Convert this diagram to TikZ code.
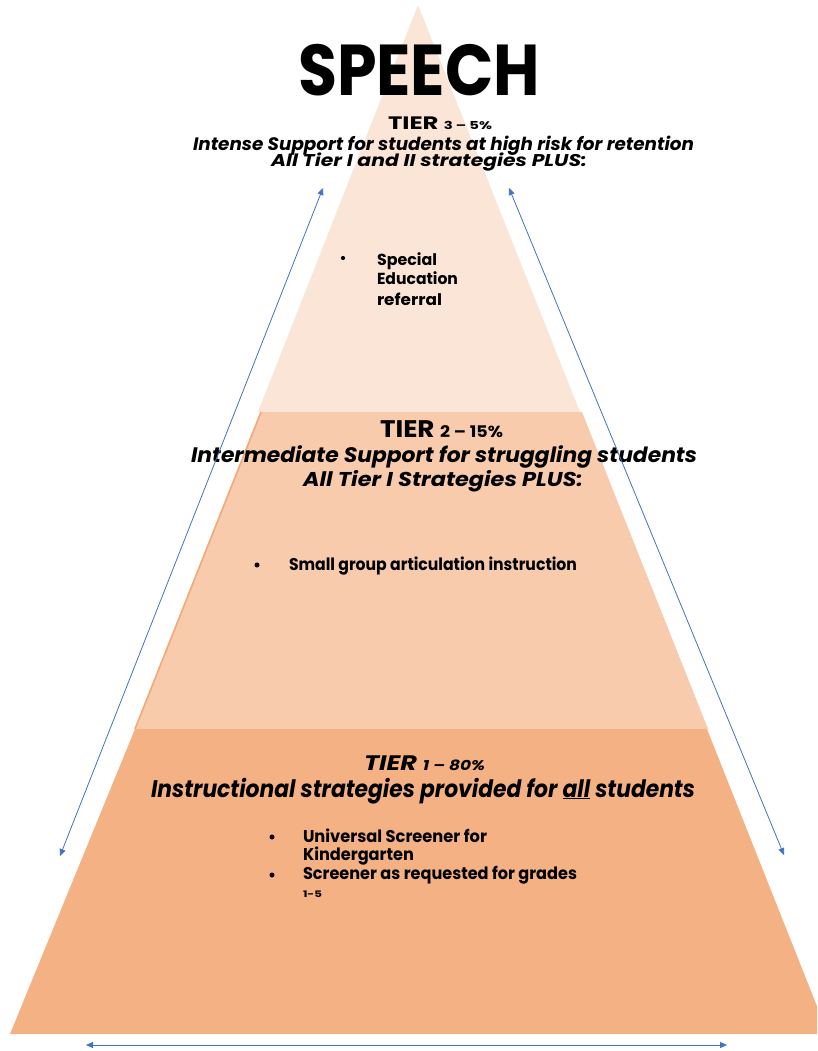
\documentclass[tikz,border=0pt]{standalone}
\usepackage{fontspec}
\usepackage{graphicx}
\setmainfont{Poppins}
\usetikzlibrary{arrows.meta}

\definecolor{tierthree}{HTML}{FBE5D6}
\definecolor{tiertwo}{HTML}{F8CBAD}
\definecolor{tierone}{HTML}{F4B183}
\definecolor{tieredge}{HTML}{F2A878}
\definecolor{arrowblue}{HTML}{4472C4}

% scale a line of text to a given width, keeping its height
\newcommand\fitline[2]{\resizebox{#1}{\height}{#2}}
\newcommand\fsz[1]{\fontsize{#1}{#1}\selectfont}

\tikzset{
  txt/.style={inner sep=0pt, outer sep=0pt, anchor=base west},
  dot/.style={circle, fill=black, inner sep=0pt, minimum size=4.2pt},
  span/.style={draw=arrowblue, line width=0.8pt,
    {Triangle[length=7pt,width=6pt]}-{Triangle[length=7pt,width=6pt]}},
}

\begin{document}
\begin{tikzpicture}[x=1pt,y=-1pt]
\clip (0,0) rectangle (817,1051);
\fill[white] (0,0) rectangle (817,1051);

% pyramid tiers
\fill[tierthree] (418,5) -- (258,412) -- (580,412) -- cycle;
\fill[tiertwo] (261,412) -- (582,412) -- (708,729) -- (135,729) -- cycle;
\draw[tieredge, line width=1.6pt] (261,412) -- (135,729);
\fill[tierone] (135,729) -- (707,729) -- (828,1034) -- (10,1034) -- cycle;

% title
\node[txt] (title) at (298,96) {\fitline{242pt}{\fsz{72}\bfseries SPEECH}};

% tier 3
\node[txt] (t3head) at (388,130) {\fitline{104pt}{\fsz{18}\bfseries TIER {\fsz{11}3 – 5\%}}};
\node[txt] (t3line1) at (193,151) {\fitline{501pt}{\fsz{18}\bfseries\itshape Intense Support for students at high risk for retention}};
\node[txt] (t3line2) at (271,167) {\fitline{316pt}{\fsz{17}\bfseries\itshape All Tier I and II strategies PLUS:}};
\node[dot] (t3dot) at (343,258) {};
\node[txt] (t3a) at (377,265) {\fitline{60pt}{\fsz{16}\bfseries Special}};
\node[txt] (t3b) at (377,284) {\fitline{81pt}{\fsz{16}\bfseries Education}};
\node[txt] (t3c) at (377,305) {\fitline{65pt}{\fsz{16}\bfseries referral}};

% tier 2
\node[txt] (t2head) at (380,437) {\fitline{123pt}{\fsz{24}\bfseries TIER {\fsz{16}2 – 15\%}}};
\node[txt] (t2line1) at (191,462) {\fitline{506pt}{\fsz{21}\bfseries\itshape Intermediate Support for struggling students}};
\node[txt] (t2line2) at (303,486) {\fitline{280pt}{\fsz{20}\bfseries\itshape All Tier I Strategies PLUS:}};
\node[dot, minimum size=5pt] (t2dot) at (257,565) {};
\node[txt] (t2a) at (289,570) {\fitline{288pt}{\fsz{17}\bfseries Small group articulation instruction}};

% tier 1
\node[txt] (t1head) at (364,770) {\fitline{121pt}{\fsz{21}\bfseries\itshape TIER {\fsz{14}1 – 80\%}}};
\node[txt] (t1line1) at (151,797) {\fitline{544pt}{\fsz{24}\bfseries\itshape Instructional strategies provided for \underline{all} students}};
\node[dot, minimum size=5pt] (t1dot1) at (272,837) {};
\node[dot, minimum size=5pt] (t1dot2) at (272,875) {};
\node[txt] (t1a) at (303,842) {\fitline{184pt}{\fsz{17}\bfseries Universal Screener for}};
\node[txt] (t1b) at (303,860) {\fitline{111pt}{\fsz{17}\bfseries Kindergarten}};
\node[txt] (t1c) at (303,879) {\fitline{274pt}{\fsz{17}\bfseries Screener as requested for grades}};
\node[txt] (t1d) at (303,897) {\fitline{19pt}{\fsz{9}\bfseries 1-5}};

% double-headed span arrows
\coordinate (lefttop) at (323,188);
\coordinate (leftbot) at (60,856);
\coordinate (righttop) at (509,188);
\coordinate (rightbot) at (784,855);
\coordinate (baseleft) at (86,1045);
\coordinate (baseright) at (727,1045);
\draw[span] (lefttop) -- (leftbot);
\draw[span] (righttop) -- (rightbot);
\draw[span] (baseleft) -- (baseright);
\end{tikzpicture}
\end{document}
